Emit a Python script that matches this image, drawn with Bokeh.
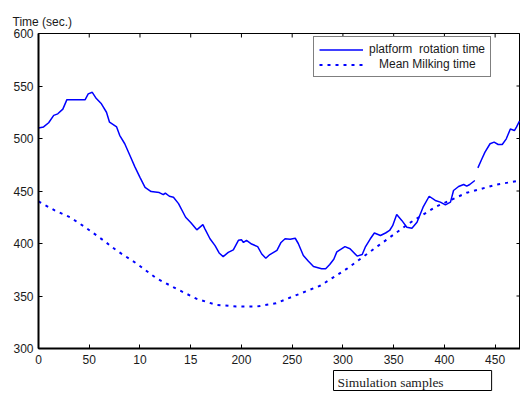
import math
from bokeh.plotting import figure
from bokeh.models import (ColumnDataSource, FixedTicker, Range1d, Title, Legend, LegendItem)
from bokeh.embed import file_html
from bokeh.resources import INLINE

NAN = float("nan")

# platform rotation time (solid); NaN marks the gap in the record
sample_x = [0, 5, 10, 15, 19, 24, 28, 34, 41, 46, 49, 53, 57, 62, 67, 70, 77, 80, 85, 90,
            95, 100, 105, 111, 119, 123, 125, 129, 133, 138, 145, 150, 156, 162, 164, 169,
            174, 178, 182, 187, 192, 197, 200, 202, 205, 210, 216, 220, 224, 228, 235, 239,
            243, 248, 253, 256, 261, 266, 271, 279, 283, 287, 291, 294, 302, 307, 314, 319,
            322, 327, 331, 337, 342, 346, 349, 353, 358, 363, 368, 373, 379, 385, 391, 396,
            401, 406, 409, 414, 419, 422, 425, 430, 431.5, 433, 437, 440, 445, 449, 453, 457,
            461, 465, 469, 471, 474]
rotation_time = [510, 511, 515, 522, 523.5, 528, 537, 537, 537, 537, 542.5, 544, 538, 533,
                 525, 515.5, 511, 503, 495, 484, 473, 463, 453.5, 449.5, 448.5, 446.5, 448,
                 445, 444, 438, 425, 420, 413, 418, 414, 404.5, 398, 391, 387.5, 391.5, 394,
                 403, 403.5, 401, 403, 399.5, 397, 390, 386, 389.5, 393.5, 401, 404.5, 404,
                 405, 400, 388.5, 383, 378, 376, 376, 380, 385, 392, 397, 395, 388, 389.5,
                 396.5, 404.5, 410, 407.6, 410, 412.4, 417, 427.6, 422, 415.5, 414.6, 420.3,
                 434.6, 445, 441, 439.4, 436.8, 439.4, 450.5, 454.3, 456.2, 454.6, 456.2, 460,
                 NAN, 472, 480.7, 487, 495, 496.5, 494.3, 494.3, 499.7, 509, 507.6, 510.8, 516.5]

# mean milking time (dotted)
mean_x = [0, 16, 31, 46, 64, 77, 97, 116, 136, 156, 175, 195, 215, 234, 245, 278, 304,
          335, 366, 392, 422, 452, 475]
mean_time = [440, 431.5, 425, 415.5, 403, 393.3, 380.7, 367, 356.8, 347.3, 341.6, 340, 340,
             343, 347.3, 360, 376, 398, 419.7, 435.2, 448.3, 456.2, 460]

x_ticks = [0, 50, 100, 150, 200, 250, 300, 350, 400, 450]
x_tick_labels = ["0", "50", "10", "15", "200", "250", "300", "350", "400", "450"]
y_ticks = [300, 350, 400, 450, 500, 550, 600]

legend_labels = ["platform\u00a0 rotation time", "\u00a0\u00a0\u00a0Mean Milking time"]
y_title = "Time (sec.)"
x_title = "Simulation samples"

FONT = "Liberation Sans"
BLUE = "#0000ff"
X_MIN, X_MAX = 0, 475
Y_MIN, Y_MAX = 300, 600
W, H = 520, 394
BL, BR, BT, BB = 38, 0, 33, 46
TICK_PX = 4

p = figure(width=W, height=H, x_range=Range1d(X_MIN, X_MAX), y_range=Range1d(Y_MIN, Y_MAX),
           output_backend="svg", toolbar_location=None,
           min_border_left=BL, min_border_right=BR, min_border_top=BT, min_border_bottom=BB)
p.grid.visible = False
p.outline_line_color = "black"
p.outline_line_width = 1
p.background_fill_color = "white"
p.border_fill_color = "white"

# title used as the y-axis caption above the axis
p.title.text = y_title
p.title.align = "left"
p.title.offset = -26
p.title.standoff = 10
p.title.text_font = FONT
p.title.text_font_size = "12px"
p.title.text_font_style = "normal"
p.title.text_color = "#1a1a1a"

for ax in (p.xaxis[0], p.yaxis[0]):
    ax.axis_line_color = "black"
    ax.axis_line_width = 2
    ax.major_tick_in = TICK_PX
    ax.major_tick_out = 0
    ax.minor_tick_line_color = None
    ax.major_tick_line_color = "black"
    ax.major_tick_line_width = 1
    ax.major_label_text_font = FONT
    ax.major_label_text_font_size = "12px"
    ax.major_label_text_color = "#1a1a1a"

p.xaxis.ticker = FixedTicker(ticks=x_ticks)
p.xaxis.major_label_overrides = {t: l for t, l in zip(x_ticks, x_tick_labels)}
p.yaxis.ticker = FixedTicker(ticks=y_ticks)
p.xaxis.major_label_standoff = 6
p.yaxis.major_label_standoff = 5

# inward tick marks on the top and right borders
dy = TICK_PX * (Y_MAX - Y_MIN) / (H - BT - BB)
dx = TICK_PX * (X_MAX - X_MIN) / (W - BL - BR)
p.segment(x0=x_ticks, y0=[Y_MAX] * len(x_ticks), x1=x_ticks, y1=[Y_MAX - dy] * len(x_ticks),
          line_color="black", line_width=1)
p.segment(x0=[X_MAX] * len(y_ticks), y0=y_ticks, x1=[X_MAX - dx] * len(y_ticks), y1=y_ticks,
          line_color="black", line_width=1)

src1 = ColumnDataSource(dict(x=sample_x, y=rotation_time))
src2 = ColumnDataSource(dict(x=mean_x, y=mean_time))
r1 = p.line("x", "y", source=src1, line_color=BLUE, line_width=1.5)
r2 = p.line("x", "y", source=src2, line_color=BLUE, line_width=2, line_dash="3 5")

legend = Legend(items=[LegendItem(label=legend_labels[0], renderers=[r1]),
                       LegendItem(label=legend_labels[1], renderers=[r2])],
                location=(275, 271))
legend.label_text_font = FONT
legend.label_text_font_size = "12px"
legend.label_text_color = "#1a1a1a"
legend.glyph_width = 44
legend.glyph_height = 13
legend.label_height = 13
legend.label_standoff = 6
legend.spacing = 1
legend.padding = 5
legend.margin = 0
legend.border_line_color = "black"
legend.border_line_width = 1
legend.background_fill_alpha = 1
p.add_layout(legend)

cap = Title(text=x_title, align="left", offset=295, standoff=4,
            text_font="Liberation Serif", text_font_size="13.5px", text_font_style="normal",
            text_color="#1a1a1a", border_line_color="black", border_line_width=1,
            background_fill_color="white",
            padding=dict(top=4, right=48, bottom=1, left=4))
p.add_layout(cap, "below")

open("out.html", "w").write(file_html(p, INLINE))
